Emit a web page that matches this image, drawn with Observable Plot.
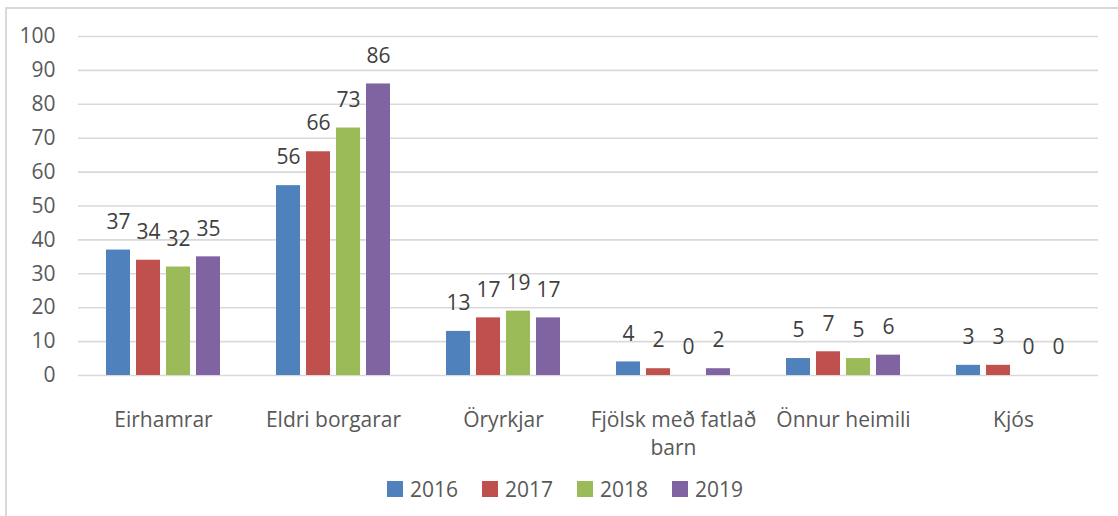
<!DOCTYPE html>
<html>
<head>
<meta charset="utf-8">
<script src="https://cdn.jsdelivr.net/npm/d3@7"></script>
<script src="https://cdn.jsdelivr.net/npm/@observablehq/plot@0.6"></script>
<style>
  html, body { margin: 0; padding: 0; background: #fff; }
  #wrap { position: relative; width: 1118px; height: 516px; overflow: hidden; font-family: "Open Sans", sans-serif; }
  #frame { position: absolute; left: 5px; top: 7px; width: 1200px; height: 600px; border-top: 2px solid #d9d9d9; border-left: 2px solid #d9d9d9; }
  #chart { position: absolute; left: 0; top: 0; }
  #legend { position: absolute; left: 387px; top: 475px; display: flex; align-items: center; color: #595959; font-size: 21px; }
  .item { display: flex; align-items: center; margin-right: 24px; }
  .sw { width: 16px; height: 16px; margin-right: 7px; }
</style>
</head>
<body>
<div id="wrap">
  <div id="frame"></div>
  <div id="chart"></div>
  <div id="legend"></div>
</div>
<script>
const categories = ["Eirhamrar", "Eldri borgarar", "Öryrkjar", "Fjölsk með fatlað barn", "Önnur heimili", "Kjós"];
const categoryLabels = ["Eirhamrar", "Eldri borgarar", "Öryrkjar", "Fjölsk með fatlað\nbarn", "Önnur heimili", "Kjós"];
const years = ["2016", "2017", "2018", "2019"];
const colors = ["#4f81bd", "#c0504d", "#9bbb59", "#8064a2"];
const values2016 = [37, 56, 13, 4, 5, 3];
const values2017 = [34, 66, 17, 2, 7, 3];
const values2018 = [32, 73, 19, 0, 5, 0];
const values2019 = [35, 86, 17, 2, 6, 0];
const yTicks = [0, 10, 20, 30, 40, 50, 60, 70, 80, 90, 100];

const series = [values2016, values2017, values2018, values2019];
const data = [];
categories.forEach((c, i) => {
  years.forEach((y, j) => data.push({category: c, year: y, value: series[j][i]}));
});
const labelOf = new Map(categories.map((c, i) => [c, categoryLabels[i]]));

const chart = Plot.plot({
  width: 1118,
  height: 460,
  marginLeft: 78,
  marginRight: 20,
  marginTop: 36,
  marginBottom: 85,
  style: {fontFamily: "Open Sans", fontSize: "21px", color: "#595959", background: "transparent"},
  fx: {domain: categories, padding: 0, label: null},
  x: {domain: years, paddingInner: 6 / 31, paddingOuter: 0.839, axis: null},
  y: {domain: [0, 100], label: null},
  color: {domain: years, range: colors},
  marks: [
    Plot.gridY(yTicks, {stroke: "#d9d9d9", strokeOpacity: 1, strokeWidth: 1.6}),
    Plot.barY(data, {fx: "category", x: "year", y: "value", fill: "year"}),
    Plot.text(data, {fx: "category", x: "year", y: "value", text: d => String(d.value), dy: -28, fill: "#404040", fontSize: 21}),
    Plot.axisY(yTicks, {tickSize: 0, tickPadding: 23, label: null, fontSize: 21}),
    Plot.axisFx({anchor: "bottom", tickSize: 0, tickPadding: 32, label: null, fontSize: 21, lineHeight: 1.33, tickFormat: d => labelOf.get(d)})
  ]
});
document.getElementById("chart").appendChild(chart);

const legend = document.getElementById("legend");
years.forEach((y, i) => {
  const item = document.createElement("div");
  item.className = "item";
  const sw = document.createElement("div");
  sw.className = "sw";
  sw.style.background = colors[i];
  const t = document.createElement("span");
  t.textContent = y;
  item.appendChild(sw);
  item.appendChild(t);
  legend.appendChild(item);
});
</script>
</body>
</html>
